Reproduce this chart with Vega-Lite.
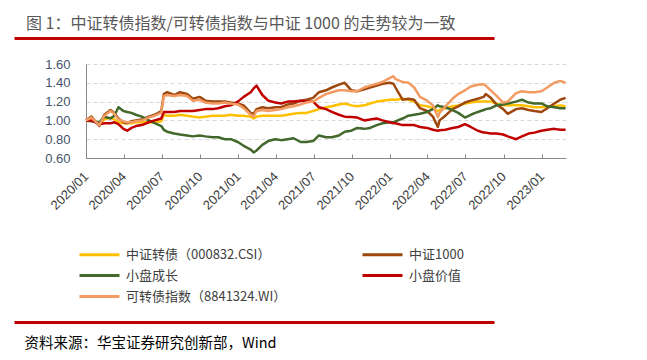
{
  "$schema": "https://vega.github.io/schema/vega-lite/v6.json",
  "width": 480,
  "height": 94,
  "autosize": {"type": "pad"},
  "padding": {"left": 14, "top": 16, "right": 5, "bottom": 5},
  "background": "white",
  "config": {"view": {"stroke": null}, "font": "Liberation Sans"},
  "title": {
    "text": "图 1：中证转债指数/可转债指数与中证 1000 的走势较为一致",
    "anchor": "start",
    "font": "Noto Sans CJK SC",
    "fontSize": 16,
    "fontWeight": "normal",
    "color": "#595959",
    "dx": 12,
    "offset": 6
  },
  "layer": [
    {
      "data": {
        "values": [
          {"d": "2020-01-02", "y": 1.0, "b": 1.0, "g": 1.0, "r": 1.0, "o": 1.0},
          {"d": "2020-01-15", "y": 1.01, "b": 1.04, "g": 0.99, "r": 1.0, "o": 1.03},
          {"d": "2020-02-03", "y": 0.96, "b": 0.94, "g": 0.98, "r": 0.96, "o": 0.95},
          {"d": "2020-02-15", "y": 1.01, "b": 1.06, "g": 1.04, "r": 0.97, "o": 1.05},
          {"d": "2020-03-01", "y": 1.03, "b": 1.11, "g": 1.02, "r": 0.97, "o": 1.1},
          {"d": "2020-03-10", "y": 1.01, "b": 1.08, "g": 1.05, "r": 0.98, "o": 1.07},
          {"d": "2020-03-20", "y": 0.98, "b": 1.02, "g": 1.14, "r": 0.96, "o": 1.01},
          {"d": "2020-04-01", "y": 0.97, "b": 0.98, "g": 1.1, "r": 0.91, "o": 0.99},
          {"d": "2020-04-10", "y": 0.97, "b": 0.97, "g": 1.09, "r": 0.89, "o": 0.98},
          {"d": "2020-04-20", "y": 0.97, "b": 0.99, "g": 1.08, "r": 0.92, "o": 0.98},
          {"d": "2020-05-01", "y": 0.98, "b": 1.0, "g": 1.06, "r": 0.94, "o": 0.99},
          {"d": "2020-05-15", "y": 0.98, "b": 1.01, "g": 1.04, "r": 0.95, "o": 1.0},
          {"d": "2020-06-01", "y": 0.98, "b": 1.04, "g": 1.0, "r": 0.98, "o": 1.03},
          {"d": "2020-06-15", "y": 0.98, "b": 1.06, "g": 0.97, "r": 1.0, "o": 1.05},
          {"d": "2020-07-01", "y": 0.99, "b": 1.1, "g": 0.94, "r": 1.02, "o": 1.08},
          {"d": "2020-07-07", "y": 1.06, "b": 1.28, "g": 0.9, "r": 1.09, "o": 1.26},
          {"d": "2020-07-15", "y": 1.05, "b": 1.3, "g": 0.88, "r": 1.09, "o": 1.27},
          {"d": "2020-08-01", "y": 1.05, "b": 1.27, "g": 0.86, "r": 1.09, "o": 1.26},
          {"d": "2020-08-15", "y": 1.06, "b": 1.3, "g": 0.85, "r": 1.1, "o": 1.27},
          {"d": "2020-09-01", "y": 1.05, "b": 1.28, "g": 0.84, "r": 1.1, "o": 1.26},
          {"d": "2020-09-15", "y": 1.04, "b": 1.23, "g": 0.83, "r": 1.1, "o": 1.21},
          {"d": "2020-10-01", "y": 1.03, "b": 1.25, "g": 0.84, "r": 1.11, "o": 1.22},
          {"d": "2020-10-15", "y": 1.04, "b": 1.21, "g": 0.83, "r": 1.12, "o": 1.19},
          {"d": "2020-11-01", "y": 1.05, "b": 1.2, "g": 0.82, "r": 1.12, "o": 1.18},
          {"d": "2020-11-15", "y": 1.05, "b": 1.2, "g": 0.82, "r": 1.13, "o": 1.18},
          {"d": "2020-12-01", "y": 1.05, "b": 1.2, "g": 0.8, "r": 1.15, "o": 1.19},
          {"d": "2020-12-15", "y": 1.06, "b": 1.19, "g": 0.8, "r": 1.16, "o": 1.18},
          {"d": "2021-01-01", "y": 1.05, "b": 1.18, "g": 0.77, "r": 1.2, "o": 1.17},
          {"d": "2021-01-15", "y": 1.05, "b": 1.16, "g": 0.73, "r": 1.25, "o": 1.13},
          {"d": "2021-02-01", "y": 1.04, "b": 1.08, "g": 0.69, "r": 1.3, "o": 1.06},
          {"d": "2021-02-08", "y": 1.02, "b": 1.07, "g": 0.66, "r": 1.34, "o": 1.04},
          {"d": "2021-02-15", "y": 1.04, "b": 1.12, "g": 0.68, "r": 1.37, "o": 1.1},
          {"d": "2021-03-01", "y": 1.05, "b": 1.14, "g": 0.74, "r": 1.27, "o": 1.11},
          {"d": "2021-03-15", "y": 1.05, "b": 1.13, "g": 0.78, "r": 1.21, "o": 1.1},
          {"d": "2021-04-01", "y": 1.05, "b": 1.14, "g": 0.8, "r": 1.19, "o": 1.11},
          {"d": "2021-04-15", "y": 1.05, "b": 1.14, "g": 0.79, "r": 1.18, "o": 1.12},
          {"d": "2021-05-01", "y": 1.06, "b": 1.17, "g": 0.8, "r": 1.2, "o": 1.14},
          {"d": "2021-05-15", "y": 1.07, "b": 1.18, "g": 0.81, "r": 1.2, "o": 1.15},
          {"d": "2021-06-01", "y": 1.08, "b": 1.21, "g": 0.77, "r": 1.21, "o": 1.17},
          {"d": "2021-06-15", "y": 1.08, "b": 1.22, "g": 0.77, "r": 1.2, "o": 1.19},
          {"d": "2021-07-01", "y": 1.1, "b": 1.24, "g": 0.78, "r": 1.2, "o": 1.2},
          {"d": "2021-07-15", "y": 1.12, "b": 1.3, "g": 0.84, "r": 1.14, "o": 1.24},
          {"d": "2021-08-01", "y": 1.14, "b": 1.32, "g": 0.82, "r": 1.12, "o": 1.28},
          {"d": "2021-08-15", "y": 1.15, "b": 1.35, "g": 0.82, "r": 1.09, "o": 1.3},
          {"d": "2021-09-01", "y": 1.17, "b": 1.38, "g": 0.84, "r": 1.06, "o": 1.32},
          {"d": "2021-09-15", "y": 1.18, "b": 1.4, "g": 0.88, "r": 1.04, "o": 1.32},
          {"d": "2021-10-01", "y": 1.16, "b": 1.32, "g": 0.89, "r": 1.035, "o": 1.31},
          {"d": "2021-10-15", "y": 1.15, "b": 1.31, "g": 0.92, "r": 1.03, "o": 1.31},
          {"d": "2021-11-01", "y": 1.16, "b": 1.33, "g": 0.91, "r": 1.0, "o": 1.35},
          {"d": "2021-11-15", "y": 1.18, "b": 1.35, "g": 0.92, "r": 1.01, "o": 1.37},
          {"d": "2021-12-01", "y": 1.2, "b": 1.37, "g": 0.95, "r": 1.02, "o": 1.39},
          {"d": "2021-12-15", "y": 1.21, "b": 1.39, "g": 0.97, "r": 1.0, "o": 1.41},
          {"d": "2022-01-01", "y": 1.22, "b": 1.4, "g": 0.98, "r": 0.98, "o": 1.45},
          {"d": "2022-01-10", "y": 1.22, "b": 1.39, "g": 0.98, "r": 0.97, "o": 1.47},
          {"d": "2022-01-15", "y": 1.22, "b": 1.35, "g": 0.99, "r": 0.97, "o": 1.44},
          {"d": "2022-02-01", "y": 1.23, "b": 1.22, "g": 1.02, "r": 0.95, "o": 1.41},
          {"d": "2022-02-15", "y": 1.22, "b": 1.23, "g": 1.05, "r": 0.95, "o": 1.4},
          {"d": "2022-03-01", "y": 1.2, "b": 1.22, "g": 1.06, "r": 0.95, "o": 1.35},
          {"d": "2022-03-15", "y": 1.16, "b": 1.13, "g": 1.07, "r": 0.93, "o": 1.25},
          {"d": "2022-04-01", "y": 1.15, "b": 1.1, "g": 1.09, "r": 0.92, "o": 1.21},
          {"d": "2022-04-15", "y": 1.13, "b": 1.04, "g": 1.12, "r": 0.9, "o": 1.16},
          {"d": "2022-04-27", "y": 1.1, "b": 0.93, "g": 1.16, "r": 0.89, "o": 1.035},
          {"d": "2022-05-01", "y": 1.11, "b": 1.0, "g": 1.15, "r": 0.895, "o": 1.08},
          {"d": "2022-05-15", "y": 1.13, "b": 1.05, "g": 1.14, "r": 0.9, "o": 1.15},
          {"d": "2022-06-01", "y": 1.15, "b": 1.12, "g": 1.11, "r": 0.92, "o": 1.23},
          {"d": "2022-06-15", "y": 1.16, "b": 1.15, "g": 1.08, "r": 0.93, "o": 1.28},
          {"d": "2022-07-01", "y": 1.18, "b": 1.19, "g": 1.03, "r": 0.96, "o": 1.32},
          {"d": "2022-07-15", "y": 1.19, "b": 1.21, "g": 1.06, "r": 0.93, "o": 1.36},
          {"d": "2022-08-01", "y": 1.2, "b": 1.23, "g": 1.09, "r": 0.89, "o": 1.38},
          {"d": "2022-08-15", "y": 1.2, "b": 1.25, "g": 1.11, "r": 0.87, "o": 1.385},
          {"d": "2022-08-20", "y": 1.2, "b": 1.28, "g": 1.12, "r": 0.87, "o": 1.37},
          {"d": "2022-09-01", "y": 1.2, "b": 1.24, "g": 1.13, "r": 0.86, "o": 1.32},
          {"d": "2022-09-15", "y": 1.18, "b": 1.17, "g": 1.16, "r": 0.86, "o": 1.26},
          {"d": "2022-10-01", "y": 1.16, "b": 1.12, "g": 1.17, "r": 0.85, "o": 1.19},
          {"d": "2022-10-12", "y": 1.16, "b": 1.07, "g": 1.18, "r": 0.83, "o": 1.2},
          {"d": "2022-11-01", "y": 1.16, "b": 1.12, "g": 1.2, "r": 0.8, "o": 1.29},
          {"d": "2022-11-15", "y": 1.16, "b": 1.13, "g": 1.22, "r": 0.83, "o": 1.31},
          {"d": "2022-12-01", "y": 1.15, "b": 1.11, "g": 1.19, "r": 0.86, "o": 1.3},
          {"d": "2022-12-15", "y": 1.14, "b": 1.1, "g": 1.18, "r": 0.87, "o": 1.3},
          {"d": "2023-01-01", "y": 1.14, "b": 1.09, "g": 1.18, "r": 0.89, "o": 1.31},
          {"d": "2023-01-15", "y": 1.15, "b": 1.13, "g": 1.15, "r": 0.9, "o": 1.35},
          {"d": "2023-02-01", "y": 1.15, "b": 1.18, "g": 1.14, "r": 0.91, "o": 1.4},
          {"d": "2023-02-15", "y": 1.16, "b": 1.22, "g": 1.13, "r": 0.9, "o": 1.42},
          {"d": "2023-02-28", "y": 1.15, "b": 1.24, "g": 1.13, "r": 0.9, "o": 1.4}
        ]
      },
      "transform": [{"fold": ["y", "b", "g", "r", "o"], "as": ["k", "v"]}],
      "mark": {"type": "line", "strokeWidth": 2.5, "strokeJoin": "round"},
      "encoding": {
        "x": {
          "field": "d",
          "type": "temporal",
          "scale": {"type": "utc", "domain": [{"year": 2020, "month": 1, "date": 2, "utc": true}, {"year": 2023, "month": 3, "date": 1, "utc": true}]},
          "axis": {
            "values": [
              {"year": 2020, "month": 1, "date": 2, "utc": true},
              {"year": 2020, "month": 4, "date": 2, "utc": true},
              {"year": 2020, "month": 7, "date": 2, "utc": true},
              {"year": 2020, "month": 10, "date": 2, "utc": true},
              {"year": 2021, "month": 1, "date": 2, "utc": true},
              {"year": 2021, "month": 4, "date": 2, "utc": true},
              {"year": 2021, "month": 7, "date": 2, "utc": true},
              {"year": 2021, "month": 10, "date": 2, "utc": true},
              {"year": 2022, "month": 1, "date": 2, "utc": true},
              {"year": 2022, "month": 4, "date": 2, "utc": true},
              {"year": 2022, "month": 7, "date": 2, "utc": true},
              {"year": 2022, "month": 10, "date": 2, "utc": true},
              {"year": 2023, "month": 1, "date": 2, "utc": true}
            ],
            "format": "%Y/%m",
            "labelAngle": -45,
            "labelAlign": "right",
            "labelBaseline": "middle",
            "labelOverlap": false,
            "labelFlush": false,
            "labelBound": false,
            "labelFont": "Liberation Sans",
            "labelFontSize": 13,
            "labelColor": "#404040",
            "labelPadding": 20,
            "tickSize": -4,
            "tickColor": "#898989",
            "domainColor": "#898989",
            "grid": false,
            "title": null
          }
        },
        "y": {
          "field": "v",
          "type": "quantitative",
          "scale": {"domain": [0.6, 1.6], "nice": false, "zero": false},
          "axis": {
            "values": [0.6, 0.8, 1.0, 1.2, 1.4, 1.6],
            "format": ".2f",
            "ticks": false,
            "labelPadding": 16,
            "labelFont": "Liberation Sans",
            "labelFontSize": 13,
            "labelColor": "#44546A",
            "domainColor": "#898989",
            "grid": true,
            "gridColor": "#D9D9D9",
            "gridDash": [4, 3],
            "title": null
          }
        },
        "color": {
          "field": "k",
          "type": "nominal",
          "scale": {"domain": ["y", "g", "o", "b", "r"], "range": ["#FFC000", "#43682B", "#F39B63", "#9E480E", "#C00000"]},
          "legend": {
            "orient": "none",
            "legendX": 2,
            "legendY": 179,
            "columns": 2,
            "columnPadding": 70,
            "rowPadding": 2,
            "padding": 0,
            "symbolType": "M-2,0H2",
            "symbolSize": 400,
            "symbolStrokeWidth": 3,
            "labelFont": "Noto Sans CJK SC",
            "labelFontSize": 13,
            "labelColor": "#404040",
            "labelOffset": 15,
            "labelLimit": 300,
            "title": null,
            "labelExpr": "datum.label == 'y' ? '中证转债（000832.CSI）' : datum.label == 'b' ? '中证1000' : datum.label == 'g' ? '小盘成长' : datum.label == 'r' ? '小盘价值' : '可转债指数（8841324.WI）'"
          }
        }
      }
    },
    {
      "data": {"values": []},
      "mark": "rule",
      "encoding": {
        "x": {
          "field": "d",
          "type": "temporal",
          "scale": {"type": "utc", "domain": [{"year": 2020, "month": 1, "date": 2, "utc": true}, {"year": 2023, "month": 3, "date": 1, "utc": true}]},
          "axis": {"orient": "top", "position": -72, "offset": 26, "labels": false, "ticks": false, "grid": false, "domainColor": "#C00000", "domainWidth": 3, "title": null}
        }
      }
    },
    {
      "data": {"values": []},
      "mark": "rule",
      "encoding": {
        "x": {
          "field": "d",
          "type": "temporal",
          "scale": {"type": "utc", "domain": [{"year": 2020, "month": 1, "date": 2, "utc": true}, {"year": 2023, "month": 3, "date": 1, "utc": true}]},
          "axis": {
            "orient": "bottom", "position": -72, "offset": 164, "labels": false, "ticks": false, "grid": false,
            "domainColor": "#C00000", "domainWidth": 3,
            "title": "资料来源：华宝证券研究创新部，Wind",
            "titleAnchor": "start", "titleAlign": "left", "titleBaseline": "top",
            "titlePadding": 14, "titleX": 10,
            "titleFont": "Noto Sans CJK SC", "titleFontSize": 14.5, "titleFontWeight": "normal", "titleColor": "#000000"
          }
        }
      }
    }
  ],
  "resolve": {"axis": {"x": "independent"}}
}
